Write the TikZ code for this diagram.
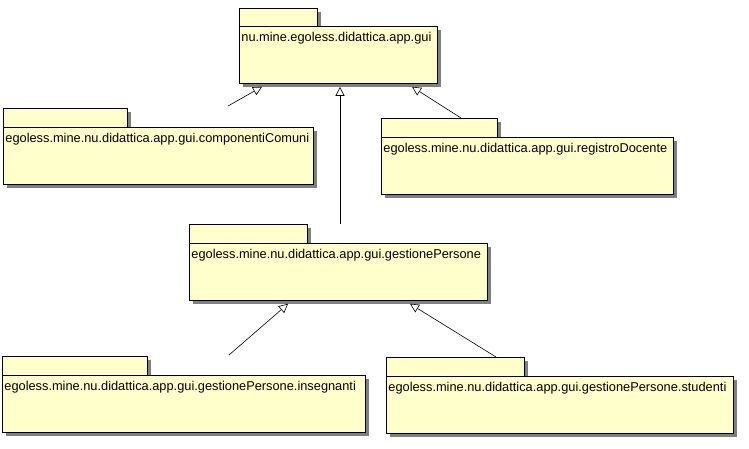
\documentclass[tikz,border=0pt]{standalone}
\usepackage{fontspec}
\setmainfont{Liberation Sans}
\usetikzlibrary{arrows.meta,shadows,calc}
\definecolor{pkgfill}{RGB}{255,255,204}
\definecolor{pkgshadow}{RGB}{128,128,128}

\begin{document}
\begin{tikzpicture}[
  x=1pt,y=-1pt,
  every node/.style={draw,line width=0.8pt,fill=pkgfill,inner sep=0pt,
    drop shadow={shadow xshift=4pt,shadow yshift=-4pt,fill=pkgshadow,opacity=1}},
  pkgtab/.style={anchor=north west,minimum width=#1,minimum height=19pt},
  pkgbody/.style={anchor=north west,text width=#1,inner xsep=2pt,
    text height=15pt,text depth=42pt,align=left,font=\fontsize{12.8}{15}\selectfont},
  gen/.style={draw,line width=0.6pt,-{Triangle[open,length=9pt,width=9pt,fill=white]}}
]
  \useasboundingbox (0,0) rectangle (749,449);

  % packages
  \node[pkgtab=78pt] (guiTab) at (239,8) {};
  \node[pkgbody=194pt] (gui) at (239,26) {nu.mine.egoless.didattica.app.gui};

  \node[pkgtab=124pt] (comuniTab) at (3,108) {};
  \node[pkgbody=306pt] (comuni) at (3,127) {egoless.mine.nu.didattica.app.gui.componentiComuni};

  \node[pkgtab=116pt] (registroTab) at (381,118) {};
  \node[pkgbody=288pt] (registro) at (381,137) {egoless.mine.nu.didattica.app.gui.registroDocente};

  \node[pkgtab=118pt] (gestioneTab) at (189,224) {};
  \node[pkgbody=294pt] (gestione) at (189,243) {egoless.mine.nu.didattica.app.gui.gestionePersone};

  \node[pkgtab=145pt] (insTab) at (2,356) {};
  \node[pkgbody=359pt] (ins) at (2,375) {egoless.mine.nu.didattica.app.gui.gestionePersone.insegnanti};

  \node[pkgtab=138pt] (stuTab) at (386,357) {};
  \node[pkgbody=343pt] (stu) at (386,376) {egoless.mine.nu.didattica.app.gui.gestionePersone.studenti};

  % generalizations
  \draw[gen] ($(comuniTab.north west)+(225,-2)$) -- ($(gui.south west)+(23,3)$);
  \draw[gen] ($(gestioneTab.north west)+(151,0)$) -- ($(gui.south west)+(101,3)$);
  \draw[gen] ($(registroTab.north west)+(80,0)$) -- ($(gui.south west)+(173,3)$);
  \draw[gen] ($(insTab.north west)+(227,-1)$) -- ($(gestione.south west)+(99,3)$);
  \draw[gen] ($(stuTab.north west)+(110,0)$) -- ($(gestione.south west)+(221,3)$);
\end{tikzpicture}
\end{document}
